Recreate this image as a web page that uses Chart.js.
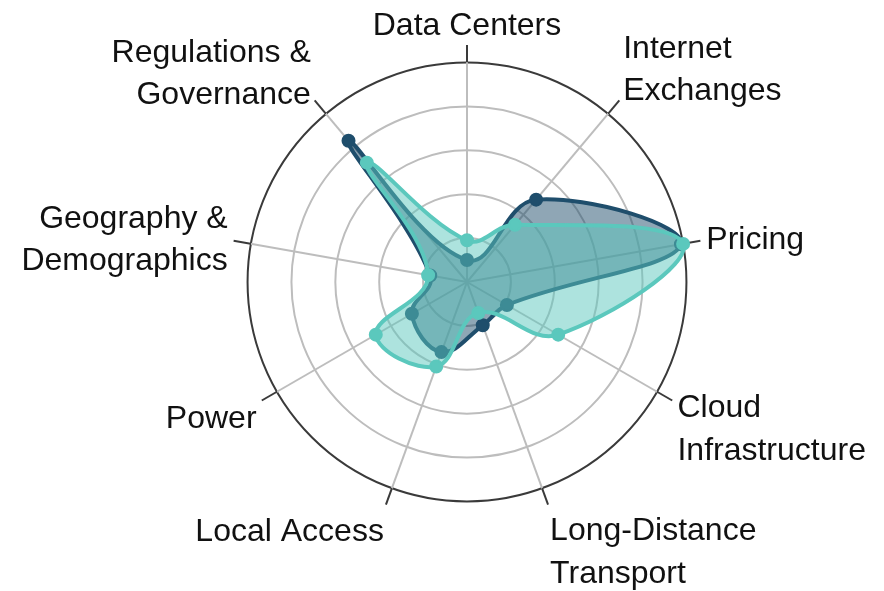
<!DOCTYPE html>
<html>
<head>
<meta charset="utf-8">
<script src="https://cdn.jsdelivr.net/npm/chart.js@4.4.1/dist/chart.umd.min.js"></script>
<style>
  html, body { margin: 0; padding: 0; background: #ffffff; }
  #wrap { width: 884px; height: 591px; }
</style>
</head>
<body>
<div id="wrap"><canvas id="c" width="884" height="591"></canvas></div>
<script>
// ---- data ----
const categories = [
  ["Data Centers"],
  ["Internet", "Exchanges"],
  ["Pricing"],
  ["Cloud", "Infrastructure"],
  ["Long-Distance", "Transport"],
  ["Local Access"],
  ["Power"],
  ["Geography &", "Demographics"],
  ["Regulations &", "Governance"]
];
const seriesDark = [10, 49, 99, 21, 21, 34, 29, 17, 84];
const seriesTeal = [19, 34, 100, 48, 15, 41, 48, 18, 71];
const ringValues = [0, 20, 40, 60, 80, 100];
const outerRing = 100;
const axisEnd = 108; // spokes run a little past the outer ring

const DARK = '#1f4e6c';
const TEAL = '#5bc8bd';
const GRID = '#bdbdbd';
const FRAME = '#3a3a3a';
const LABEL_FONT_SIZE = 32;
const LABEL_LINE = 42.5;
const LABEL_GAP = 6;

const ticksFromRings = ringValues.concat([axisEnd]);

function spokeColor(ctx) {
  const s = ctx.chart.scales.r;
  if (!s || !isFinite(s.xCenter) || !s.drawingArea) return GRID;
  const rIn = s.getDistanceFromCenterForValue(outerRing);
  const rEnd = s.getDistanceFromCenterForValue(axisEnd);
  const g = ctx.chart.ctx.createRadialGradient(s.xCenter, s.yCenter, 0, s.xCenter, s.yCenter, rEnd);
  const k = Math.min(0.999, rIn / rEnd);
  g.addColorStop(0, GRID);
  g.addColorStop(k, GRID);
  g.addColorStop(Math.min(1, k + 0.001), FRAME);
  g.addColorStop(1, FRAME);
  return g;
}

// Axis (point) labels placed around the scale, using the scale's own geometry
const axisLabelPlugin = {
  id: 'axisLabels',
  afterDraw(chart) {
    const s = chart.scales.r;
    const ctx = chart.ctx;
    const labels = chart.data.labels;
    const capH = LABEL_FONT_SIZE * 0.716;
    ctx.save();
    ctx.font = LABEL_FONT_SIZE + 'px "Liberation Sans", Arial, Helvetica, sans-serif';
    ctx.fillStyle = '#111111';
    ctx.textBaseline = 'alphabetic';
    labels.forEach((lines, i) => {
      const pos = s.getPointPosition(i, s.drawingArea + LABEL_GAP);
      const theta = s.getIndexAngle(i); // 0 = top, clockwise
      const deg = Math.round(theta * 180 / Math.PI) % 360;
      let align = 'center';
      if (deg > 0 && deg < 180) align = 'left';
      else if (deg > 180) align = 'right';
      ctx.textAlign = align;
      const n = lines.length;
      const blockH = capH + (n - 1) * LABEL_LINE;
      let centerY = pos.y - Math.cos(theta) * (blockH / 2 + 4);
      if (Math.cos(theta) < -0.01) centerY += 5;
      if (deg > 270) centerY += 4;
      let y = centerY - blockH / 2 + capH;
      lines.forEach(line => {
        ctx.fillText(line, pos.x, y);
        y += LABEL_LINE;
      });
    });
    ctx.restore();
  }
};

new Chart(document.getElementById('c'), {
  type: 'radar',
  data: {
    labels: categories,
    datasets: [
      {
        label: 'A',
        data: seriesDark,
        borderColor: DARK,
        backgroundColor: 'rgba(31,78,108,0.5)',
        pointBackgroundColor: DARK,
        pointBorderColor: DARK,
        borderWidth: 4,
        pointRadius: 6,
        pointBorderWidth: 2,
        tension: 0.4,
        fill: true,
        order: 1
      },
      {
        label: 'B',
        data: seriesTeal,
        borderColor: TEAL,
        backgroundColor: 'rgba(91,200,189,0.5)',
        pointBackgroundColor: TEAL,
        pointBorderColor: TEAL,
        borderWidth: 4,
        pointRadius: 6,
        pointBorderWidth: 2,
        tension: 0.4,
        fill: true,
        order: 0
      }
    ]
  },
  plugins: [axisLabelPlugin],
  options: {
    responsive: false,
    devicePixelRatio: 1,
    animation: false,
    layout: { padding: { left: 230, right: 180, top: 45, bottom: 72 } },
    plugins: { legend: { display: false }, tooltip: { enabled: false } },
    scales: {
      r: {
        min: 0,
        max: axisEnd,
        afterBuildTicks: (scale) => {
          scale.ticks = ticksFromRings.map(v => ({ value: v }));
        },
        ticks: { display: false },
        grid: {
          circular: true,
          color: (ctx) => {
            const v = ctx.tick ? ctx.tick.value : 0;
            if (v === axisEnd) return 'rgba(0,0,0,0)';
            if (v === outerRing) return FRAME;
            return GRID;
          },
          lineWidth: 2
        },
        angleLines: { color: spokeColor, lineWidth: 2 },
        pointLabels: { display: false }
      }
    }
  }
});
</script>
</body>
</html>
